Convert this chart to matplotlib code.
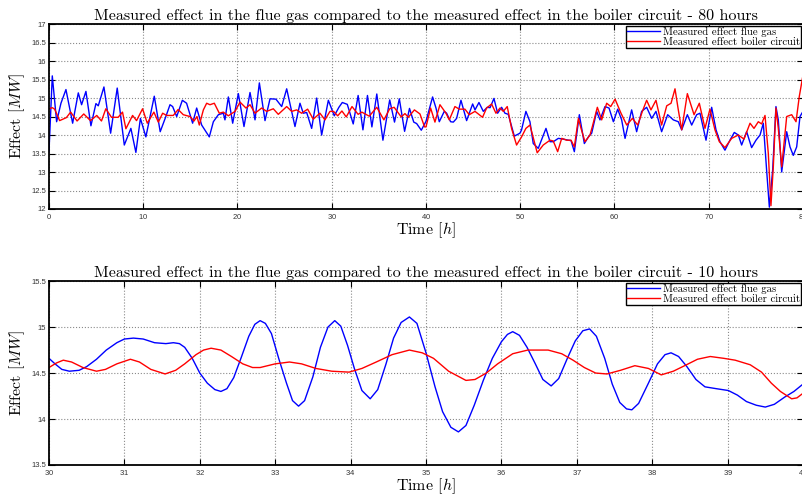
import matplotlib
matplotlib.use('Agg')
import matplotlib.pyplot as plt
import numpy as np

plt.rcParams['font.family'] = ['Liberation Sans', 'DejaVu Sans']
plt.rcParams['mathtext.fontset'] = 'cm'
plt.rcParams['axes.formatter.use_mathtext'] = True

# 80 hours - flue gas
t_gas_80 = [0, 0.35, 0.81, 1.27, 1.8, 2.51, 3.11, 3.46, 3.92, 4.45, 4.98, 5.23, 5.83, 6.54, 7.24,
            7.99, 8.69, 9.22, 9.7, 10.28, 11.17, 11.8, 12.4, 12.84, 13.12, 13.55, 14.15, 14.6,
            15.24, 15.67, 16.2, 17.01, 17.44, 17.97, 18.5, 18.67, 19.03, 19.49, 20.09, 20.69,
            21.33, 21.86, 22.32, 22.92, 23.45, 24.08, 24.69, 25.22, 26.1, 26.63, 26.98, 27.34,
            27.87, 28.4, 28.93, 29.64, 30.27, 30.76, 31.12, 31.65, 32.28, 32.8, 33.31, 33.79,
            34.26, 34.78, 35.43, 36.15, 36.66, 37.17, 37.73, 38.25, 38.7, 39.01, 39.5, 40.0,
            40.7, 41.06, 41.41, 41.94, 42.19, 42.61, 42.9, 43.25, 43.71, 44.31, 44.95, 45.2,
            45.62, 46.08, 46.5, 46.8, 47.21, 47.6, 48.02, 48.38, 48.73, 49.37, 49.97, 50.14,
            50.6, 51.03, 51.38, 51.91, 52.73, 53.16, 53.51, 54.04, 54.57, 55.1, 55.39, 55.74,
            56.27, 56.8, 57.23, 57.58, 58.11, 58.46, 58.99, 59.42, 59.88, 60.34, 60.76, 61.12,
            61.82, 62.35, 62.88, 63.41, 63.95, 64.4, 65.0, 65.64, 66.24, 66.77, 67.13, 67.73,
            68.19, 68.72, 69.07, 69.71, 70.31, 70.77, 71.19, 71.72, 72.25, 72.71, 73.14, 73.49,
            74.02, 74.55, 75.01, 75.44, 75.79, 76.14, 76.43, 76.78, 77.13, 77.38, 77.74, 78.27,
            78.62, 78.97, 79.33, 79.68, 80.0]
gas_80 = [13.55, 15.6, 14.36, 14.86, 15.23, 14.32, 15.14, 14.82, 15.18, 14.25, 14.85, 14.79, 15.3,
          14.05, 15.27, 13.73, 14.18, 13.53, 14.45, 13.95, 15.05, 14.09, 14.5, 14.82, 14.77, 14.5,
          14.94, 14.86, 14.32, 14.73, 14.27, 13.95, 14.36, 14.55, 14.59, 14.41, 15.03, 14.32,
          15.12, 14.23, 15.15, 14.41, 15.41, 14.39, 14.98, 14.97, 14.77, 15.25, 14.23, 14.86,
          14.59, 14.61, 14.18, 15.0, 14.0, 14.94, 14.52, 14.75, 14.88, 14.83, 14.3, 15.07, 14.14,
          15.07, 14.22, 15.11, 13.86, 14.95, 14.35, 14.98, 14.1, 14.72, 14.35, 14.31, 14.13, 14.37,
          15.03, 14.73, 14.36, 14.64, 14.59, 14.36, 14.35, 14.45, 14.94, 14.39, 14.84, 14.68,
          14.88, 14.64, 14.75, 14.74, 14.99, 14.59, 14.75, 14.59, 14.56, 13.97, 14.05, 14.14,
          14.64, 14.36, 13.77, 13.64, 14.18, 13.82, 13.82, 13.91, 13.89, 13.86, 13.85, 13.55,
          14.55, 13.77, 13.95, 14.05, 14.64, 14.41, 14.77, 14.73, 14.36, 14.7, 14.41, 13.91,
          14.68, 14.09, 14.64, 14.75, 14.45, 14.64, 14.09, 14.55, 14.41, 14.36, 14.14, 14.55,
          14.27, 14.55, 14.59, 13.86, 14.75, 14.14, 13.82, 13.59, 13.86, 14.07, 14.0, 13.73,
          14.09, 13.66, 13.86, 14.0, 14.32, 13.05, 12.05, 13.05, 14.77, 14.41, 13.0, 14.09,
          13.68, 13.45, 13.68, 14.5, 14.64]

# 80 hours - boiler circuit
t_boil_80 = [0, 0.35, 0.6, 1.13, 1.84, 2.3, 2.98, 3.69, 4.4, 5.07, 5.57, 6.03, 6.63, 7.34, 7.8,
             8.16, 8.87, 9.29, 9.93, 10.43, 11.13, 11.6, 12.06, 12.48, 13.19, 13.7, 14.25, 14.96,
             15.39, 15.7, 15.95, 16.38, 16.73, 17.08, 17.54, 18.07, 18.5, 19.03, 19.74, 20.27,
             20.9, 21.33, 21.86, 22.56, 23.1, 23.8, 24.33, 25.22, 25.75, 26.28, 26.8, 27.44, 28.04,
             28.75, 29.28, 29.81, 30.19, 30.63, 31.08, 31.54, 32.15, 32.8, 33.19, 33.98, 34.78,
             35.53, 36.15, 36.62, 37.37, 37.77, 38.12, 38.77, 39.36, 39.85, 40.0, 40.49, 40.95,
             41.48, 42.12, 42.47, 43.07, 43.53, 44.13, 44.59, 45.2, 46.0, 46.43, 46.96, 47.42,
             47.85, 48.2, 48.62, 49.08, 49.61, 50.14, 50.6, 51.03, 51.8, 52.44, 53.16, 53.5,
             53.97, 54.4, 54.93, 55.39, 55.74, 56.17, 56.45, 56.87, 57.4, 57.65, 58.18, 58.64,
             59.17, 59.6, 60.06, 60.69, 61.3, 61.9, 62.46, 62.96, 63.41, 63.87, 64.4, 65.0, 65.54,
             66.0, 66.42, 66.77, 67.13, 67.73, 68.44, 69.0, 69.6, 70.13, 70.66, 71.12, 71.72,
             72.43, 73.14, 73.74, 74.38, 74.8, 75.26, 75.61, 75.97, 76.32, 76.6, 76.85, 77.13,
             77.38, 77.74, 78.27, 78.8, 79.26, 79.61, 80.0]
boil_80 = [14.71, 14.74, 14.7, 14.39, 14.47, 14.62, 14.38, 14.57, 14.39, 14.53, 14.38, 14.71, 14.48,
           14.48, 14.62, 14.17, 14.53, 14.39, 14.71, 14.32, 14.62, 14.35, 14.59, 14.53, 14.53,
           14.69, 14.55, 14.5, 14.38, 14.5, 14.27, 14.68, 14.86, 14.82, 14.86, 14.59, 14.62, 14.52,
           14.64, 14.89, 14.73, 14.82, 14.59, 14.73, 14.64, 14.71, 14.56, 14.77, 14.64, 14.68,
           14.59, 14.7, 14.43, 14.59, 14.41, 14.64, 14.64, 14.52, 14.65, 14.49, 14.77, 14.56,
           14.62, 14.51, 14.75, 14.41, 14.71, 14.75, 14.49, 14.58, 14.48, 14.68, 14.57, 14.22,
           14.22, 14.73, 14.35, 14.82, 14.59, 14.41, 14.77, 14.7, 14.7, 14.55, 14.64, 14.48, 14.73,
           14.84, 14.59, 14.73, 14.64, 14.77, 14.18, 13.73, 13.95, 14.18, 14.27, 13.52, 13.73,
           13.86, 13.84, 13.55, 13.91, 13.86, 13.86, 13.68, 14.45, 14.18, 13.82, 14.0, 14.23,
           14.75, 14.41, 14.86, 14.77, 14.97, 14.59, 14.27, 14.45, 14.27, 14.64, 14.94, 14.68,
           14.94, 14.27, 14.79, 14.86, 15.25, 14.68, 14.14, 15.12, 14.55, 14.86, 14.18, 14.7,
           14.14, 13.82, 13.66, 13.91, 14.0, 13.89, 14.32, 14.18, 14.36, 14.3, 14.53, 13.5, 12.09,
           13.14, 14.73, 14.18, 13.14, 14.5, 14.55, 14.36, 15.05, 15.62]

# 10 hours - flue gas
t_gas_10 = [30.0, 30.08, 30.17, 30.27, 30.4, 30.5, 30.63, 30.76, 30.9, 31.0, 31.12, 31.25, 31.4,
            31.55, 31.65, 31.73, 31.8, 31.9, 32.0, 32.1, 32.2, 32.28, 32.36, 32.45, 32.55, 32.65,
            32.73, 32.8, 32.87, 32.95, 33.05, 33.15, 33.23, 33.31, 33.39, 33.5, 33.6, 33.7, 33.79,
            33.87, 33.96, 34.05, 34.15, 34.26, 34.36, 34.47, 34.57, 34.67, 34.78, 34.88, 35.0,
            35.12, 35.22, 35.33, 35.43, 35.53, 35.64, 35.76, 35.88, 36.0, 36.08, 36.15, 36.24,
            36.34, 36.45, 36.55, 36.66, 36.76, 36.88, 36.98, 37.08, 37.17, 37.26, 37.37, 37.47,
            37.57, 37.66, 37.73, 37.82, 37.95, 38.07, 38.17, 38.25, 38.35, 38.46, 38.58, 38.7,
            38.85, 39.01, 39.13, 39.25, 39.38, 39.5, 39.62, 39.76, 39.88, 40.0]
gas_10 = [14.66, 14.6, 14.54, 14.52, 14.53, 14.57, 14.65, 14.75, 14.83, 14.87, 14.88, 14.87, 14.83,
          14.82, 14.83, 14.82, 14.78, 14.66, 14.5, 14.39, 14.32, 14.3, 14.33, 14.45, 14.67, 14.9,
          15.03, 15.07, 15.04, 14.93, 14.65, 14.39, 14.2, 14.14, 14.2, 14.46, 14.78, 15.0, 15.07,
          15.01, 14.8, 14.55, 14.31, 14.22, 14.32, 14.6, 14.88, 15.05, 15.11, 15.04, 14.72, 14.35,
          14.08, 13.91, 13.86, 13.93, 14.15, 14.42, 14.66, 14.84, 14.92, 14.95, 14.91, 14.78, 14.6,
          14.43, 14.36, 14.44, 14.67, 14.85, 14.96, 14.98, 14.9, 14.66, 14.38, 14.18, 14.11, 14.1,
          14.17, 14.39, 14.6, 14.7, 14.72, 14.68, 14.57, 14.43, 14.35, 14.33, 14.31, 14.26, 14.19,
          14.15, 14.13, 14.16, 14.24, 14.3, 14.38]

# 10 hours - boiler circuit
t_boil_10 = [30.0, 30.1, 30.19, 30.3, 30.45, 30.63, 30.75, 30.9, 31.08, 31.2, 31.35, 31.54, 31.68,
             31.8, 31.95, 32.05, 32.15, 32.28, 32.42, 32.57, 32.7, 32.8, 33.0, 33.19, 33.35, 33.54,
             33.75, 33.98, 34.15, 34.34, 34.55, 34.78, 34.95, 35.1, 35.3, 35.53, 35.65, 35.8,
             35.95, 36.15, 36.35, 36.62, 36.8, 36.95, 37.1, 37.25, 37.4, 37.58, 37.77, 37.95,
             38.12, 38.28, 38.43, 38.6, 38.77, 38.95, 39.1, 39.3, 39.45, 39.58, 39.7, 39.85, 39.92,
             40.0]
boil_10 = [14.56, 14.61, 14.64, 14.62, 14.56, 14.52, 14.54, 14.6, 14.65, 14.62, 14.54, 14.49, 14.53,
           14.6, 14.7, 14.75, 14.77, 14.75, 14.68, 14.6, 14.56, 14.56, 14.6, 14.62, 14.6, 14.55,
           14.52, 14.51, 14.55, 14.62, 14.7, 14.75, 14.72, 14.66, 14.52, 14.42, 14.43, 14.5, 14.6,
           14.71, 14.75, 14.75, 14.71, 14.64, 14.56, 14.5, 14.49, 14.53, 14.58, 14.55, 14.48,
           14.52, 14.58, 14.65, 14.68, 14.66, 14.64, 14.59, 14.51, 14.39, 14.3, 14.22, 14.23, 14.28]

labels = ['Measured effect flue gas', 'Measured effect boiler circuit']
titles = ['Measured effect in the flue gas compared to the measured effect in the boiler circuit - 80 hours',
          'Measured effect in the flue gas compared to the measured effect in the boiler circuit - 10 hours']

fig = plt.figure(figsize=(8.03, 4.97), dpi=100)
ax1 = fig.add_axes([0.061, 0.5795, 0.939, 0.372])
ax2 = fig.add_axes([0.061, 0.0644, 0.939, 0.370])

serif = 'cmr10'


def style(ax, title):
    ax.grid(True, linestyle=':', color='#8a8a8a', linewidth=0.8)
    ax.tick_params(direction='in', top=True, right=True, length=4, width=0.8,
                   labelsize=5.5, labelcolor='#333333', pad=2)
    for s in ax.spines.values():
        s.set_linewidth(1.3)
    ax.set_title(title, fontfamily=serif, fontsize=11.5, pad=3)
    ax.set_xlabel('Time $[h]$', fontfamily=serif, fontsize=11.5, labelpad=0)
    ax.set_ylabel('Effect $[MW]$', fontfamily=serif, fontsize=11.5, labelpad=3)
    ax.legend(loc='upper right', prop={'family': serif, 'size': 7.8},
              fancybox=False, framealpha=1, edgecolor='black', borderaxespad=0.15,
              borderpad=0.12, labelspacing=0.0, handlelength=3.0, handletextpad=0.3)
    ax.get_legend().get_frame().set_linewidth(1.0)


ax1.plot(t_gas_80, gas_80, color='#0000ff', linewidth=1.0, label=labels[0])
ax1.plot(t_boil_80, boil_80, color='#ff0000', linewidth=1.0, label=labels[1])
ax1.set_xlim(0, 80)
ax1.set_ylim(12, 17)
ax1.set_xticks(np.arange(0, 81, 10))
ax1.set_yticks(np.arange(12, 17.01, 0.5))
ax1.set_yticklabels(['12', '12.5', '13', '13.5', '14', '14.5', '15', '15.5', '16', '16.5', '17'])
style(ax1, titles[0])

ax2.plot(t_gas_10, gas_10, color='#0000ff', linewidth=1.0, label=labels[0])
ax2.plot(t_boil_10, boil_10, color='#ff0000', linewidth=1.0, label=labels[1])
ax2.set_xlim(30, 40)
ax2.set_ylim(13.5, 15.5)
ax2.set_xticks(np.arange(30, 41, 1))
ax2.set_yticks(np.arange(13.5, 15.51, 0.5))
ax2.set_yticklabels(['13.5', '14', '14.5', '15', '15.5'])
style(ax2, titles[1])

fig.savefig('out.png', dpi=100)
